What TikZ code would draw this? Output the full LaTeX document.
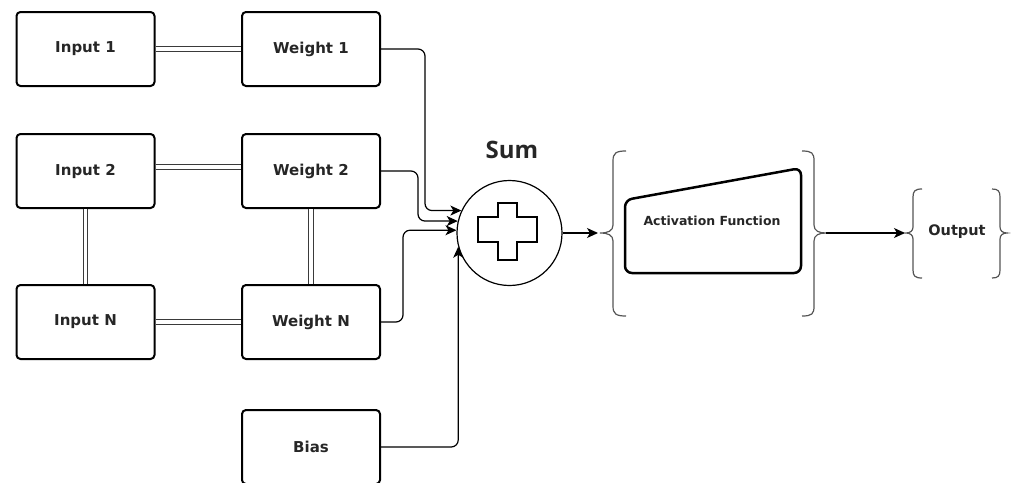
\documentclass[tikz,border=0pt]{standalone}
\usepackage{fontspec}
\setmainfont{DejaVu Sans}
\newfontfamily\sumfont{Open Sans}
\usetikzlibrary{arrows.meta}
\definecolor{ink}{HTML}{262626}
\definecolor{linegray}{HTML}{3A3A3A}
\definecolor{bracegray}{HTML}{555555}
\tikzset{
  unitbox/.style={draw=black, line width=2pt, rounded corners=4pt, minimum width=138pt,
    minimum height=74pt, inner sep=0pt, text=ink, font=\bfseries\fontsize{15}{18}\selectfont},
  dbl/.style={draw=linegray, line width=1.2pt, double=white, double distance=3.4pt},
  feed/.style={draw=black, line width=1.2pt, rounded corners=7pt,
    -{Stealth[length=11pt,width=10pt,inset=3pt]}},
  flow/.style={draw=black, line width=1.2pt, -{Stealth[length=11pt,width=10pt,inset=3pt]}},
  brace/.style={draw=bracegray, line width=1.2pt},
}
\begin{document}
\begin{tikzpicture}[x=1pt, y=-1pt]
\useasboundingbox (0,0) rectangle (1011,482);
\clip (0,0) rectangle (1011,482);

% inputs and weights
\node[unitbox] (in1) at (85.5,49) {Input 1};
\node[unitbox] (w1)  at (311,49)  {Weight 1};
\node[unitbox] (in2) at (85.5,171) {Input 2};
\node[unitbox] (w2)  at (311,171) {Weight 2};
\node[unitbox] (inN) at (85.5,322) {Input N};
\node[unitbox] (wN)  at (311,322) {Weight N};
\node[unitbox] (bias) at (311,447) {Bias};

% double links between the boxes
\draw[dbl] (in1.east) -- (w1.west);
\draw[dbl] ([yshift=4pt]in2.east) -- ([yshift=4pt]w2.west);
\draw[dbl] (inN.east) -- (wN.west);
\draw[dbl] (in2.south) -- (inN.north);
\draw[dbl] (w2.south) -- (wN.north);

% summation node
\node[draw=black, line width=1.2pt, circle, minimum size=105pt, inner sep=0pt] (sumc) at (509.5,233) {};
\node[text=ink, font=\sumfont\bfseries\fontsize{24}{28}\selectfont] (sumlbl) at (512,150) {Sum};
\draw[line width=2pt, line join=miter]
  (498,203) -- (517,203) -- (517,217) -- (537,217) -- (537,242) -- (517,242) -- (517,260)
  -- (498,260) -- (498,242) -- (478,242) -- (478,217) -- (498,217) -- cycle;

% weighted inputs into the sum
\draw[feed] (w1.east) -- ++(44,0) |- (sumc.155);
\draw[feed] (w2.east) -- ++(37,0) |- (sumc.167);
\draw[feed] (wN.east) -- ++(22,0) |- (sumc.177);
\draw[feed] (bias.east) -| (sumc.195);

% activation block
\coordinate (actin) at (600,233);
\coordinate (actout) at (826,233);
\draw[brace] (626,151) .. controls (616,151) and (613,153) .. (613,161) -- (613,225)
  .. controls (613,231) and (608,233) .. (actin) .. controls (608,233) and (613,235) .. (613,241)
  -- (613,306) .. controls (613,314) and (616,316) .. (626,316);
\draw[brace] (802,151) .. controls (812,151) and (814,153) .. (814,161) -- (814,225)
  .. controls (814,231) and (819,233) .. (actout) .. controls (819,233) and (814,235) .. (814,241)
  -- (814,306) .. controls (814,314) and (812,316) .. (802,316);
\draw[line width=2.5pt, rounded corners=7pt] (625,273) -- (625,200) -- (801,168) -- (801,273) -- cycle;
\node[text=ink, font=\bfseries\fontsize{12.5}{15}\selectfont] (act) at (712,221) {Activation Function};

% output block
\coordinate (outin) at (906,233);
\coordinate (outend) at (1007,233);
\draw[brace] (922,189) .. controls (915,189) and (913,191) .. (913,197) -- (913,227)
  .. controls (913,231) and (910,233) .. (outin) .. controls (910,233) and (913,235) .. (913,239)
  -- (913,270) .. controls (913,276) and (915,278) .. (922,278);
\draw[brace] (992,189) .. controls (998,189) and (1000,191) .. (1000,197) -- (1000,227)
  .. controls (1000,231) and (1003,233) .. (outend) .. controls (1003,233) and (1000,235) .. (1000,239)
  -- (1000,270) .. controls (1000,276) and (998,278) .. (992,278);
\node[text=ink, font=\bfseries\fontsize{14.5}{17}\selectfont] (out) at (957,232) {Output};

% forward flow
\draw[flow] (sumc.east) -- ([xshift=-2pt]actin);
\draw[flow] (actout) -- ([xshift=-1pt]outin);
\end{tikzpicture}
\end{document}
